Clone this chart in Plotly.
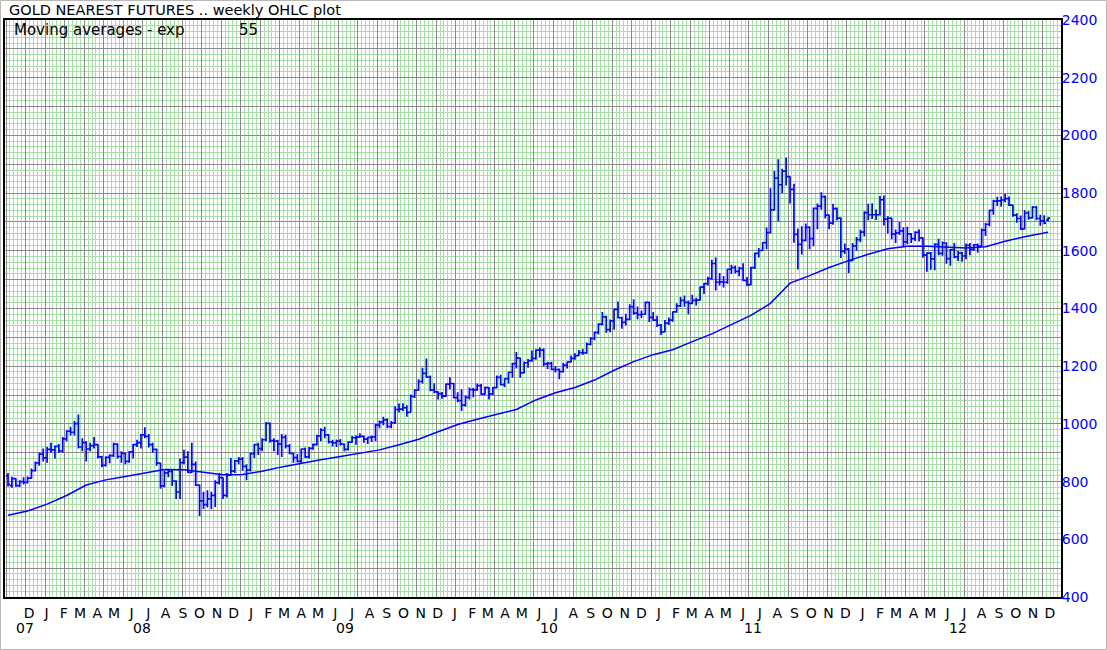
import plotly.graph_objects as go
import pandas as pd

# ---------------- data (weekly OHLC, gold nearest futures) ----------------
start_week = "2007-11-12"

opens = [
    820, 786, 810, 786, 800, 797, 812, 838, 865, 895, 882, 912, 910, 922, 906, 948, 975, 971, 1001, 920,
    935, 913, 925, 928, 886, 856, 884, 890, 930, 887, 898, 870, 903, 928, 935, 962, 957, 928, 912, 864,
    785, 830, 835, 802, 764, 866, 885, 832, 860, 788, 733, 720, 740, 752, 796, 814, 752, 822, 836, 872,
    878, 853, 840, 897, 928, 914, 945, 1002, 942, 940, 930, 953, 923, 898, 883, 870, 913, 886, 915, 928,
    958, 978, 962, 938, 934, 940, 930, 912, 937, 952, 954, 957, 947, 953, 955, 996, 1007, 1014, 991, 1004,
    1050, 1051, 1056, 1040, 1095, 1117, 1147, 1175, 1162, 1118, 1111, 1105,
    1096, 1138, 1140, 1091, 1081, 1065, 1092, 1119, 1118, 1133, 1103, 1126, 1104, 1126, 1161, 1136, 1157, 1179,
    1209, 1228, 1177, 1212, 1219, 1227, 1256, 1256, 1208, 1210, 1189, 1188, 1181, 1204, 1215, 1227, 1237, 1247,
    1246, 1276, 1296, 1317, 1346, 1371, 1327, 1357, 1397, 1368, 1352, 1362, 1406, 1384, 1379, 1380,
    1421, 1369, 1360, 1342, 1319, 1349, 1360, 1388, 1409, 1428, 1421, 1418, 1428, 1429, 1474, 1486, 1504, 1556,
    1491, 1492, 1491, 1536, 1542, 1529, 1539, 1497, 1483, 1542, 1591, 1601, 1628, 1663, 1742, 1852, 1829, 1876,
    1857, 1813, 1657, 1622, 1636, 1681, 1642, 1747, 1755, 1788, 1724, 1696, 1746, 1713, 1598, 1606,
    1566, 1617, 1639, 1665, 1732, 1725, 1725, 1725, 1777, 1710, 1713, 1658, 1662, 1669, 1631, 1659, 1642, 1664,
    1645, 1585, 1592, 1572, 1622, 1591, 1627, 1573, 1604, 1579, 1592, 1582, 1619, 1605, 1621, 1616, 1672, 1692,
    1740, 1772, 1773, 1776, 1781, 1758, 1724, 1712, 1676, 1731, 1714, 1751, 1712, 1704, 1706,
]
highs = [
    830, 817, 812, 805, 815, 818, 845, 870, 900, 915, 920, 935, 925, 930, 955, 978, 990, 1010, 1033, 950,
    940, 935, 955, 930, 890, 888, 895, 935, 933, 905, 900, 905, 930, 945, 965, 988, 965, 935, 915, 865,
    838, 840, 840, 805, 880, 910, 905, 935, 870, 790, 765, 770, 765, 805, 830, 815, 830, 882, 875, 885,
    885, 860, 900, 930, 935, 950, 1007, 1005, 950, 945, 965, 962, 930, 900, 896, 915, 918, 920, 932, 962,
    985, 990, 965, 945, 946, 948, 932, 940, 958, 960, 968, 960, 955, 960, 1000, 1012, 1025, 1020, 1010, 1061,
    1071, 1072, 1065, 1102, 1120, 1155, 1195, 1227, 1168, 1141, 1113, 1111,
    1140, 1162, 1142, 1110, 1120, 1098, 1126, 1125, 1140, 1138, 1130, 1128, 1128, 1168, 1170, 1158, 1180, 1212,
    1249, 1230, 1216, 1225, 1254, 1259, 1266, 1262, 1215, 1215, 1201, 1192, 1212, 1215, 1237, 1245, 1256, 1260,
    1282, 1300, 1320, 1349, 1388, 1375, 1362, 1398, 1424, 1371, 1382, 1415, 1432, 1407, 1393, 1424,
    1423, 1388, 1375, 1346, 1360, 1369, 1390, 1418, 1440, 1445, 1428, 1448, 1437, 1476, 1488, 1510, 1569, 1577,
    1523, 1513, 1537, 1552, 1549, 1545, 1557, 1509, 1545, 1594, 1610, 1630, 1681, 1817, 1877, 1917, 1884, 1923,
    1858, 1832, 1677, 1685, 1695, 1685, 1750, 1764, 1803, 1792, 1725, 1763, 1750, 1715, 1625, 1610,
    1627, 1648, 1673, 1737, 1763, 1765, 1743, 1790, 1792, 1720, 1714, 1674, 1700, 1682, 1683, 1662, 1668, 1675,
    1646, 1595, 1596, 1626, 1642, 1632, 1630, 1606, 1627, 1599, 1597, 1625, 1627, 1624, 1625, 1677, 1696, 1742,
    1777, 1787, 1788, 1798, 1788, 1760, 1730, 1722, 1741, 1738, 1755, 1755, 1725, 1723, 1716,
]
lows = [
    783, 779, 782, 781, 790, 793, 810, 835, 855, 870, 865, 900, 880, 900, 900, 940, 960, 960, 915, 905,
    870, 905, 915, 880, 850, 852, 864, 885, 880, 865, 860, 865, 880, 920, 915, 950, 918, 900, 855, 775,
    780, 815, 785, 740, 740, 860, 830, 830, 785, 681, 705, 710, 705, 712, 790, 740, 745, 820, 830, 860,
    838, 805, 835, 882, 892, 905, 940, 935, 905, 892, 885, 915, 895, 865, 866, 865, 882, 880, 910, 925,
    940, 950, 932, 922, 920, 925, 905, 908, 935, 928, 952, 935, 930, 937, 940, 985, 995, 985, 985, 1000,
    1040, 1045, 1025, 1040, 1090, 1115, 1140, 1160, 1113, 1106, 1085, 1087,
    1093, 1120, 1088, 1075, 1045, 1060, 1085, 1092, 1115, 1101, 1101, 1085, 1100, 1124, 1133, 1127, 1140, 1160,
    1192, 1160, 1175, 1195, 1215, 1222, 1230, 1200, 1190, 1187, 1178, 1155, 1178, 1192, 1213, 1222, 1235, 1240,
    1243, 1272, 1290, 1310, 1341, 1316, 1318, 1326, 1365, 1330, 1341, 1360, 1378, 1363, 1367, 1378,
    1353, 1357, 1336, 1308, 1318, 1343, 1354, 1385, 1405, 1406, 1380, 1415, 1410, 1427, 1450, 1480, 1500, 1462,
    1480, 1473, 1486, 1520, 1521, 1512, 1495, 1478, 1481, 1537, 1577, 1600, 1605, 1660, 1740, 1702, 1800, 1826,
    1764, 1628, 1535, 1587, 1632, 1605, 1616, 1675, 1742, 1712, 1675, 1690, 1705, 1575, 1589, 1523,
    1565, 1600, 1630, 1650, 1706, 1710, 1707, 1722, 1688, 1660, 1640, 1627, 1655, 1612, 1623, 1627, 1634, 1632,
    1576, 1527, 1534, 1533, 1585, 1583, 1555, 1548, 1574, 1565, 1562, 1571, 1585, 1600, 1593, 1616, 1651, 1685,
    1725, 1755, 1753, 1768, 1755, 1718, 1697, 1672, 1674, 1708, 1712, 1706, 1687, 1692, 1703,
]
closes = [
    790, 810, 786, 800, 797, 812, 838, 865, 895, 882, 912, 910, 922, 906, 948, 975, 971, 1001, 920, 935,
    913, 925, 928, 886, 856, 884, 890, 930, 887, 898, 870, 903, 928, 935, 962, 957, 928, 912, 864, 785,
    830, 835, 802, 764, 866, 885, 832, 860, 788, 733, 720, 740, 752, 796, 814, 752, 822, 836, 872, 878,
    853, 840, 897, 928, 914, 945, 1002, 942, 940, 930, 953, 923, 898, 883, 870, 913, 886, 915, 928, 958,
    978, 962, 938, 934, 940, 930, 912, 937, 952, 954, 957, 947, 953, 955, 996, 1007, 1014, 991, 1004, 1050,
    1051, 1056, 1040, 1095, 1117, 1147, 1175, 1162, 1118, 1111, 1105, 1096,
    1138, 1140, 1091, 1081, 1065, 1092, 1119, 1118, 1133, 1103, 1126, 1104, 1126, 1161, 1136, 1157, 1179, 1209,
    1228, 1177, 1212, 1219, 1227, 1256, 1256, 1208, 1210, 1189, 1188, 1181, 1204, 1215, 1227, 1237, 1247, 1246,
    1276, 1296, 1317, 1346, 1371, 1327, 1357, 1397, 1368, 1352, 1362, 1406, 1384, 1379, 1380, 1421,
    1369, 1360, 1342, 1319, 1349, 1360, 1388, 1409, 1428, 1421, 1418, 1428, 1429, 1474, 1486, 1504, 1556, 1491,
    1492, 1491, 1536, 1542, 1529, 1539, 1497, 1483, 1542, 1591, 1601, 1628, 1663, 1742, 1852, 1829, 1876, 1857,
    1813, 1657, 1622, 1636, 1681, 1642, 1747, 1755, 1788, 1724, 1696, 1746, 1713, 1598, 1606, 1566,
    1617, 1639, 1665, 1732, 1725, 1725, 1725, 1777, 1710, 1713, 1658, 1662, 1669, 1631, 1659, 1642, 1664, 1645,
    1585, 1592, 1572, 1622, 1591, 1627, 1573, 1604, 1579, 1592, 1582, 1619, 1605, 1621, 1616, 1672, 1692, 1740,
    1772, 1773, 1776, 1781, 1758, 1724, 1712, 1676, 1731, 1714, 1751, 1712, 1704, 1696, 1713,
]

# 55-week exponential moving average, every 5th bar
ema_index = list(range(0, 266, 5)) + [266]
ema_values = [
    683, 698, 722, 752, 788, 806, 818, 830, 842, 841, 832, 824, 825, 836, 851, 864, 876, 887, 899, 910,
    928, 947, 973, 998, 1016, 1033, 1050, 1083, 1108, 1126, 1152, 1186, 1216, 1240, 1257, 1285, 1312, 1344,
    1376, 1418, 1488, 1514, 1542, 1566, 1588, 1607, 1616, 1616, 1613, 1610, 1614, 1633, 1649, 1663, 1664,
]

month_letters = ["D"] + list("JFMAMJJASOND") * 5
month_first_label = "2007-12-20"
year_labels = ["07", "08", "09", "10", "11", "12"]
year_label_dates = ["2007-12-13", "2008-07-08", "2009-07-08", "2010-07-08", "2011-07-08", "2012-07-08"]
y_tick_values = list(range(400, 2401, 100))
y_tick_text = [str(v) if v % 200 == 0 else "" for v in y_tick_values]

# ---------------- figure ----------------
dates = pd.date_range(start_week, periods=len(closes), freq="7D")
ema_dates = [dates[i] for i in ema_index]
month_ticks = pd.date_range(month_first_label, periods=len(month_letters), freq=pd.DateOffset(months=1))

W, H = 1107, 650
ML, MR, MT, MB = 5, 46, 20, 53
PW, PH = W - ML - MR, H - MT - MB


def px(xp):
    return (xp - ML) / PW


def py(yp):
    return (H - MB - yp) / PH


BLUE = "#0000ff"
GREEN = "#a6e0a6"
GRAY = "#8a8a8a"
FONT = "DejaVu Sans"
DAY = 86400000
x_range = ["2007-11-06 15:00", "2013-01-09 02:00"]

fig = go.Figure()
fig.add_trace(go.Ohlc(
    x=dates, open=opens, high=highs, low=lows, close=closes,
    increasing=dict(line=dict(color=BLUE, width=1.7)),
    decreasing=dict(line=dict(color=BLUE, width=1.7)),
    tickwidth=0.5, showlegend=False, hoverinfo="skip",
))
fig.add_trace(go.Scatter(
    x=ema_dates, y=ema_values, mode="lines",
    line=dict(color=BLUE, width=1.5), showlegend=False, hoverinfo="skip",
))
# invisible helper trace so the grid axis is realised
fig.add_trace(go.Scatter(
    x=[dates[0], dates[-1]], y=[closes[0], closes[-1]], xaxis="x2", mode="lines",
    line=dict(width=0), opacity=0, showlegend=False, hoverinfo="skip",
))

annotations = [
    dict(text="GOLD NEAREST FUTURES .. weekly OHLC plot", x=px(7), y=py(10), xref="paper", yref="paper",
         xanchor="left", yanchor="middle", showarrow=False, font=dict(family=FONT, size=14.5, color="black")),
    dict(text="Moving averages - exp", x=px(12), y=py(30), xref="paper", yref="paper",
         xanchor="left", yanchor="middle", showarrow=False, font=dict(family=FONT, size=15, color="black")),
    dict(text="55", x=px(248), y=py(30), xref="paper", yref="paper",
         xanchor="center", yanchor="middle", showarrow=False, font=dict(family=FONT, size=15, color="black")),
]
for lab, d in zip(year_labels, year_label_dates):
    annotations.append(dict(text=lab, x=d, y=py(628), xref="x", yref="paper", xanchor="center",
                            yanchor="middle", showarrow=False,
                            font=dict(family=FONT, size=14, color="black")))

fig.update_layout(
    width=W, height=H, autosize=False,
    margin=dict(l=ML, r=MR, t=MT, b=MB, pad=0),
    paper_bgcolor="white", plot_bgcolor="white",
    showlegend=False, hovermode=False,
    xaxis=dict(
        type="date", range=x_range, rangeslider=dict(visible=False), automargin=False,
        tickmode="array", tickvals=list(month_ticks), ticktext=month_letters,
        tickfont=dict(family=FONT, size=14, color="black"), ticks="", ticklabelstandoff=2,
        showgrid=False, showline=True, linecolor="black", linewidth=2, mirror=True, zeroline=False,
    ),
    xaxis2=dict(
        type="date", range=x_range, overlaying="x", side="top", showticklabels=False, ticks="",
        automargin=False,
        tick0="2007-12-13 12:00", dtick=35 * DAY, showgrid=True, gridcolor=GRAY, gridwidth=1,
        minor=dict(tick0="2007-12-13 12:00", dtick=7 * DAY, showgrid=True, gridcolor=GREEN, gridwidth=1),
        showline=False, zeroline=False,
    ),
    yaxis=dict(
        range=[400, 2400], side="right", tickmode="array", tickvals=y_tick_values, ticktext=y_tick_text,
        tickfont=dict(family=FONT, size=14, color=BLUE), ticks="", ticklabelstandoff=-4, automargin=False,
        showgrid=True, gridcolor=GRAY, gridwidth=1,
        minor=dict(tick0=400, dtick=20, showgrid=True, gridcolor=GREEN, gridwidth=1),
        showline=True, linecolor="black", linewidth=2, mirror=True, zeroline=False,
    ),
    annotations=annotations,
    shapes=[dict(type="rect", xref="paper", yref="paper", x0=px(0.5), x1=px(W - 0.5),
                 y0=py(H - 0.5), y1=py(0.5), line=dict(color="#b8b8b8", width=1), layer="above")],
)

fig.write_html("out.html", config={"displayModeBar": False},
               post_script="document.body.style.margin='0px';document.body.style.padding='0px';")
